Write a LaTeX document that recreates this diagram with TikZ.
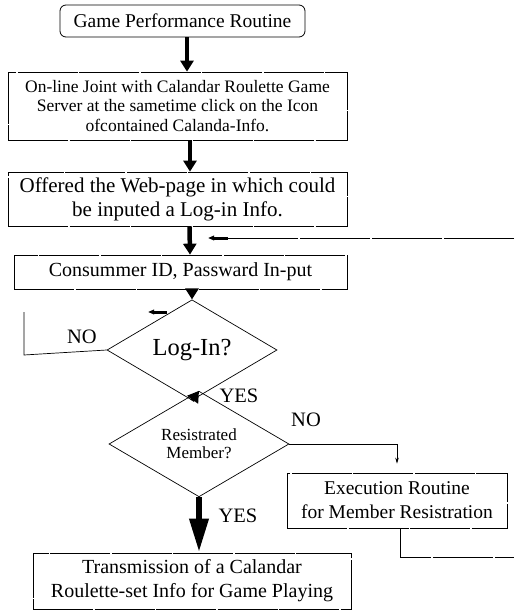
\documentclass[tikz,border=0pt]{standalone}
\usepackage{fontspec}
\setmainfont{Liberation Serif}
\usetikzlibrary{arrows.meta,shapes.geometric}
\newcommand{\fs}[2]{\fontsize{#1}{#2}\selectfont}
\begin{document}
\begin{tikzpicture}[x=1pt,y=-1pt,
  box/.style={draw,line width=0.7pt,dash pattern=on 60pt off 1.5pt,inner sep=0pt,align=center},
  startbox/.style={draw,line width=0.8pt,rounded corners=6pt,inner sep=0pt},
  decision/.style={draw,diamond,line width=0.7pt,inner sep=0pt,align=center},
  flow/.style={line width=4.5pt,-{Triangle[width=13pt,length=11pt]}},
  bigflow/.style={line width=6.5pt,-{Triangle[width=18pt,length=34pt]}},
  thin/.style={line width=0.7pt},
  stub/.style={line width=3pt,-{Triangle[width=4.5pt,length=6pt]}},
  lbl/.style={font=\fs{20.5}{22}}]
\useasboundingbox (0,0) rectangle (514,612);

% process boxes
\node[startbox,minimum width=245pt,minimum height=32pt,font=\fs{19.5}{22}] (start) at (182.5,21)
  {Game Performance Routine};
\node[box,minimum width=339pt,minimum height=68pt,font=\fs{17.5}{19.5}] (online) at (177.5,106)
  {On-line Joint with Calandar Roulette Game\\
   Server at the sametime click on the Icon\\ ofcontained Calanda-Info.};
\node[box,minimum width=339pt,minimum height=54pt,font=\fs{21}{24}] (web) at (177.5,199)
  {Offered the Web-page in which could\\ be inputed a Log-in Info.};
\node[box,minimum width=333pt,minimum height=34pt,font=\fs{20}{24}] (input) at (180.5,272)
  {Consummer ID, Passward In-put};
\node[decision,minimum width=170pt,minimum height=65pt,font=\fs{24.5}{26}] (login) at (192,350)
  {Log-In?};
\node[decision,minimum width=180pt,minimum height=64pt,font=\fs{17}{18}] (member) at (199,444)
  {Resistrated\\ Member?};
\node[box,minimum width=220pt,minimum height=55pt,font=\fs{19.5}{24}] (regist) at (397,500.5)
  {Execution Routine\\ for Member Resistration};
\node[box,minimum width=318pt,minimum height=56pt,font=\fs{20}{24}] (send) at (192,581)
  {Transmission of a Calandar\\ Roulette-set Info for Game Playing};

% main flow
\draw[flow] ([xshift=4.5pt]start.south) -- ([xshift=9.5pt]online.north);
\draw[flow] ([xshift=12.5pt]online.south) -- ([xshift=12.5pt]web.north);
\draw[flow] ([xshift=12pt]web.south) -- ([xshift=9.5pt]input.north);
\draw[flow] (input.south -| login.north) -- (login.north);
\draw[flow] (login.south) -- (member.north);
\draw[bigflow] (member.south) -- (send.north -| member.south);

% branch labels
\node[lbl] (yes1) at (239,396) {YES};
\node[lbl] (yes2) at (238,516) {YES};
\node[lbl] (no1) at (82,337) {NO};
\node[lbl] (no2) at (306,420) {NO};

% branch to member registration
\draw[thin,-{Stealth[width=3.5pt,length=6pt]},shorten >=9pt]
  (member.east) -| (regist.north);

% return paths
\coordinate (retR) at (514,557);
\coordinate (retTop) at (514,238);
\coordinate (retIn) at (228,238);
\coordinate (retTip) at (208,238);
\draw[thin,dash pattern=on 60pt off 2pt] ([xshift=3pt]regist.south) |- (retR);
\draw[thin,dash pattern=on 70pt off 2pt] (retTop) -- (retIn);
\draw[stub] (retIn) -- (retTip);

\coordinate (noCorner) at (24,355);
\coordinate (noTop) at (24,312);
\coordinate (noIn) at (167,312);
\coordinate (noTip) at (148,312);
\draw[thin] (login.west) -- (noCorner) -- (noTop);
\draw[stub] (noIn) -- (noTip);
\end{tikzpicture}
\end{document}
